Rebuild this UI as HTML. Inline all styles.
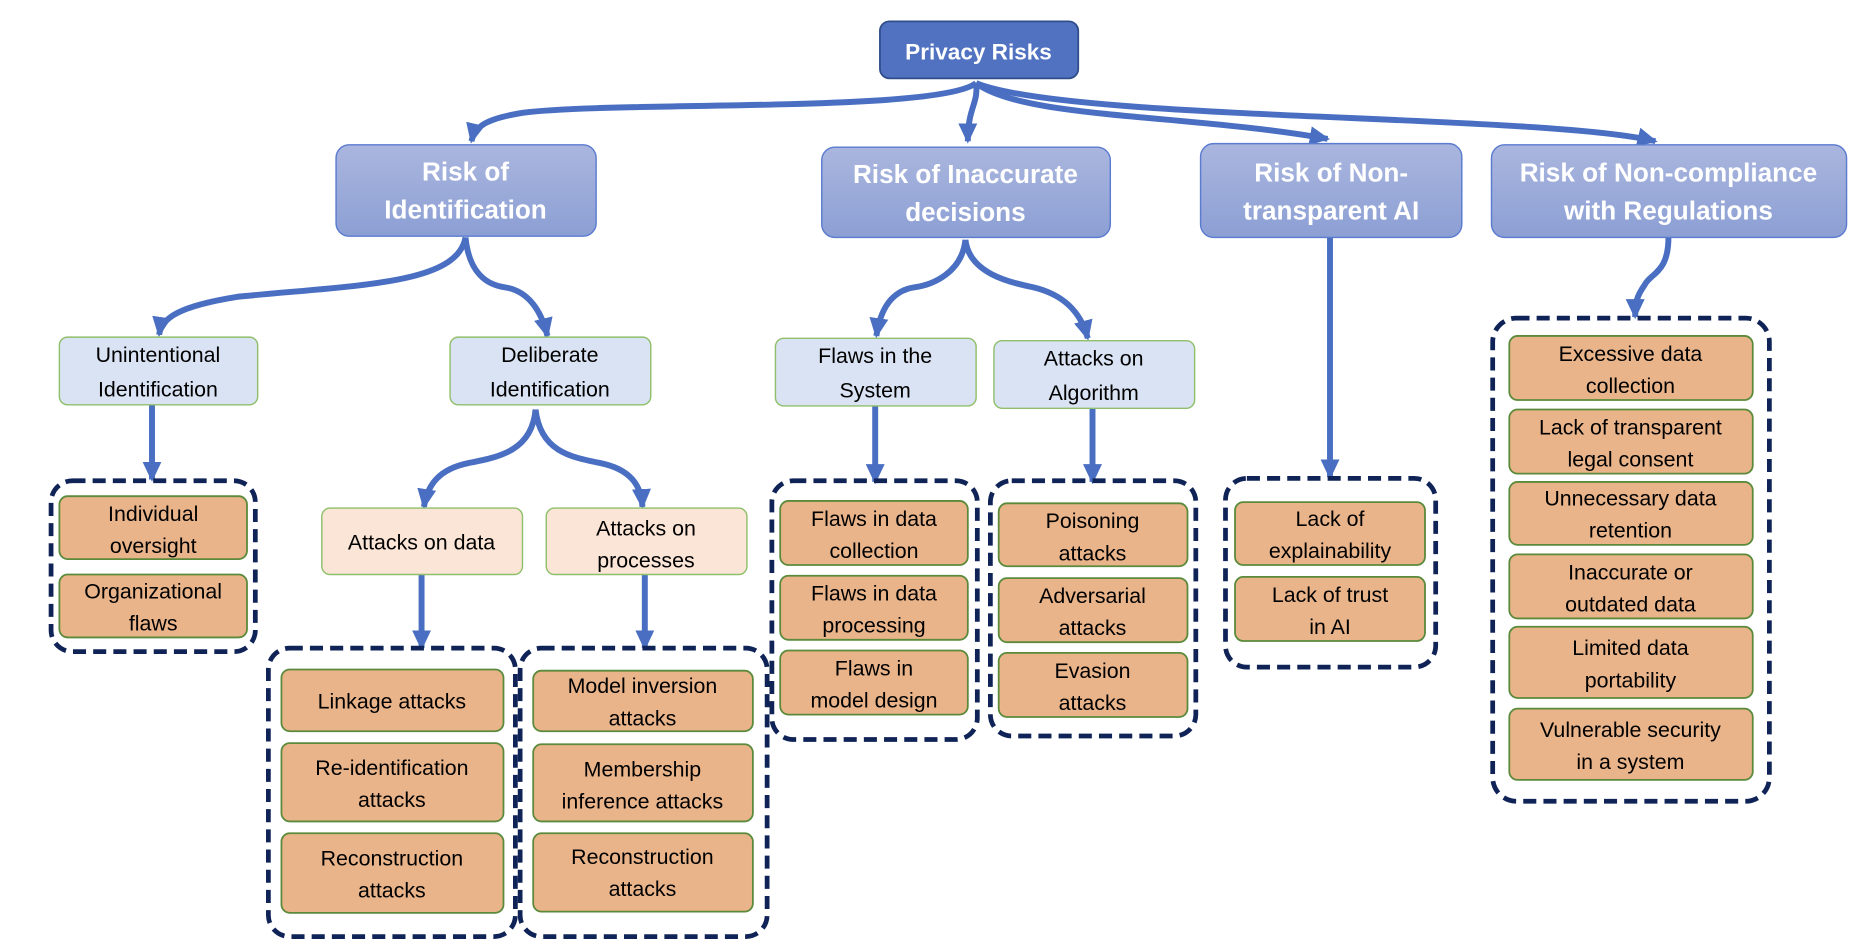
<!DOCTYPE html>
<html><head><meta charset="utf-8"><style>html,body{margin:0;padding:0;background:#fff;width:1862px;height:952px;overflow:hidden}</style></head>
<body>
<svg width="1862" height="952" viewBox="0 0 1568 802" preserveAspectRatio="none" xmlns="http://www.w3.org/2000/svg" font-family="Liberation Sans, sans-serif">
<defs>
<linearGradient id="g1" x1="0" y1="0" x2="0" y2="1"><stop offset="0" stop-color="#aab6de"/><stop offset="1" stop-color="#8c9fd4"/></linearGradient>
<marker id="a" markerUnits="userSpaceOnUse" markerWidth="18" markerHeight="18" refX="15" refY="9" orient="auto" viewBox="0 0 18 18"><path d="M0,1 L17,9 L0,17 Z" fill="#4a6fc2"/></marker>
</defs>
<g fill="none" stroke="#4a6fc2" stroke-width="5" marker-end="url(#a)">
<path d="M822,70 C790,95 520,85 440,95 C410,100 400,106 397,119"/>
<path d="M822,70 C824,88 815,90 815,119"/>
<path d="M822,70 C860,100 1000,96 1118,117"/>
<path d="M822,70 C900,102 1300,96 1394,119"/>
<path d="M392,200 C385,240 300,240 200,250 C150,258 136,268 134,282"/>
<path d="M392,200 C395,230 410,240 425,242 C445,245 456,262 461,283"/>
<path d="M813,202 C810,230 785,240 770,242 C750,245 741,262 738,283"/>
<path d="M813,202 C816,230 850,238 870,242 C895,248 910,262 916,285"/>
<path d="M1120,200 L1120,402"/>
<path d="M1405,200 C1405,230 1390,230 1385,240 C1378,250 1377,255 1377,267"/>
<path d="M128,341 L128,404"/>
<path d="M451,345 C448,380 420,385 395,390 C370,395 360,408 357,427"/>
<path d="M451,345 C455,380 480,385 505,390 C530,395 540,408 541,427"/>
<path d="M355,484 L355,546"/>
<path d="M543,484 L543,546"/>
<path d="M737,342 L737,406"/>
<path d="M920,344 L920,406"/>
</g>
<rect x="741" y="18" width="167" height="48" rx="8" fill="#5072c0" stroke="#2f4d8a" stroke-width="1.5"/>
<text x="824" y="50" text-anchor="middle" fill="#fff" font-weight="bold" font-size="19">Privacy Risks</text>
<g fill="url(#g1)" stroke="#5b7bd0" stroke-width="1.2">
<rect x="283" y="122" width="219" height="77" rx="11"/>
<rect x="692" y="124" width="243" height="76" rx="11"/>
<rect x="1011" y="121" width="220" height="79" rx="11"/>
<rect x="1256" y="122" width="299" height="78" rx="11"/>
</g>
<g fill="#fff" font-weight="bold" font-size="22" text-anchor="middle">
<text x="392" y="152">Risk of</text><text x="392" y="184">Identification</text>
<text x="813" y="154">Risk of Inaccurate</text><text x="813" y="186">decisions</text>
<text x="1121" y="153">Risk of Non-</text><text x="1121" y="185">transparent AI</text>
<text x="1405" y="153">Risk of Non-compliance</text><text x="1405" y="185">with Regulations</text>
</g>
<g fill="#dae3f3" stroke="#8fbf6a" stroke-width="1.2">
<rect x="50" y="284" width="167" height="57" rx="7"/>
<rect x="379" y="284" width="169" height="57" rx="7"/>
<rect x="653" y="285" width="169" height="57" rx="7"/>
<rect x="837" y="287" width="169" height="57" rx="7"/>
</g>
<g fill="#fbe5d6" stroke="#8fbf6a" stroke-width="1.2">
<rect x="271" y="428" width="169" height="56" rx="7"/>
<rect x="460" y="428" width="169" height="56" rx="7"/>
</g>
<g fill="none" stroke="#0f2357" stroke-width="4" stroke-dasharray="11 6">
<rect x="43" y="405" width="172" height="144" rx="18"/>
<rect x="226" y="546" width="208" height="243" rx="18"/>
<rect x="438" y="546" width="208" height="243" rx="18"/>
<rect x="650" y="405" width="173" height="218" rx="18"/>
<rect x="834" y="405" width="173" height="215" rx="18"/>
<rect x="1032" y="403" width="177" height="159" rx="18"/>
<rect x="1257" y="268" width="233" height="407" rx="20"/>
</g>
<g fill="#e9b48a" stroke="#5a8a3a" stroke-width="1.5">
<rect x="50" y="418" width="158" height="53" rx="7"/>
<rect x="50" y="484" width="158" height="53" rx="7"/>
<rect x="237" y="564" width="187" height="52" rx="7"/>
<rect x="237" y="626" width="187" height="66" rx="7"/>
<rect x="237" y="702" width="187" height="67" rx="7"/>
<rect x="449" y="565" width="185" height="51" rx="7"/>
<rect x="449" y="627" width="185" height="65" rx="7"/>
<rect x="449" y="702" width="185" height="66" rx="7"/>
<rect x="657" y="422" width="158" height="54" rx="7"/>
<rect x="657" y="485" width="158" height="54" rx="7"/>
<rect x="657" y="548" width="158" height="54" rx="7"/>
<rect x="841" y="424" width="159" height="53" rx="7"/>
<rect x="841" y="487" width="159" height="54" rx="7"/>
<rect x="841" y="550" width="159" height="54" rx="7"/>
<rect x="1040" y="423" width="160" height="53" rx="7"/>
<rect x="1040" y="486" width="160" height="54" rx="7"/>
<rect x="1271" y="283" width="205" height="54" rx="7"/>
<rect x="1271" y="345" width="205" height="54" rx="7"/>
<rect x="1271" y="406" width="205" height="53" rx="7"/>
<rect x="1271" y="467" width="205" height="54" rx="7"/>
<rect x="1271" y="528" width="205" height="60" rx="7"/>
<rect x="1271" y="597" width="205" height="60" rx="7"/>
</g>
<g fill="#000" font-size="18" text-anchor="middle">
<text x="133" y="305">Unintentional</text><text x="133" y="334">Identification</text>
<text x="463" y="305">Deliberate</text><text x="463" y="334">Identification</text>
<text x="737" y="306">Flaws in the</text><text x="737" y="335">System</text>
<text x="921" y="308">Attacks on</text><text x="921" y="337">Algorithm</text>
<text x="355" y="463">Attacks on data</text>
<text x="544" y="451">Attacks on</text><text x="544" y="478">processes</text>
<text x="129" y="439">Individual</text><text x="129" y="466">oversight</text>
<text x="129" y="504">Organizational</text><text x="129" y="531">flaws</text>
<text x="330" y="597">Linkage attacks</text>
<text x="330" y="653">Re-identification</text><text x="330" y="680">attacks</text>
<text x="330" y="729">Reconstruction</text><text x="330" y="756">attacks</text>
<text x="541" y="584">Model inversion</text><text x="541" y="611">attacks</text>
<text x="541" y="654">Membership</text><text x="541" y="681">inference attacks</text>
<text x="541" y="728">Reconstruction</text><text x="541" y="755">attacks</text>
<text x="736" y="443">Flaws in data</text><text x="736" y="470">collection</text>
<text x="736" y="506">Flaws in data</text><text x="736" y="533">processing</text>
<text x="736" y="569">Flaws in</text><text x="736" y="596">model design</text>
<text x="920" y="445">Poisoning</text><text x="920" y="472">attacks</text>
<text x="920" y="508">Adversarial</text><text x="920" y="535">attacks</text>
<text x="920" y="571">Evasion</text><text x="920" y="598">attacks</text>
<text x="1120" y="443">Lack of</text><text x="1120" y="470">explainability</text>
<text x="1120" y="507">Lack of trust</text><text x="1120" y="534">in AI</text>
<text x="1373" y="304">Excessive data</text><text x="1373" y="331">collection</text>
<text x="1373" y="366">Lack of transparent</text><text x="1373" y="393">legal consent</text>
<text x="1373" y="426">Unnecessary data</text><text x="1373" y="453">retention</text>
<text x="1373" y="488">Inaccurate or</text><text x="1373" y="515">outdated data</text>
<text x="1373" y="552">Limited data</text><text x="1373" y="579">portability</text>
<text x="1373" y="621">Vulnerable security</text><text x="1373" y="648">in a system</text>
</g>
</svg>
</body></html>
